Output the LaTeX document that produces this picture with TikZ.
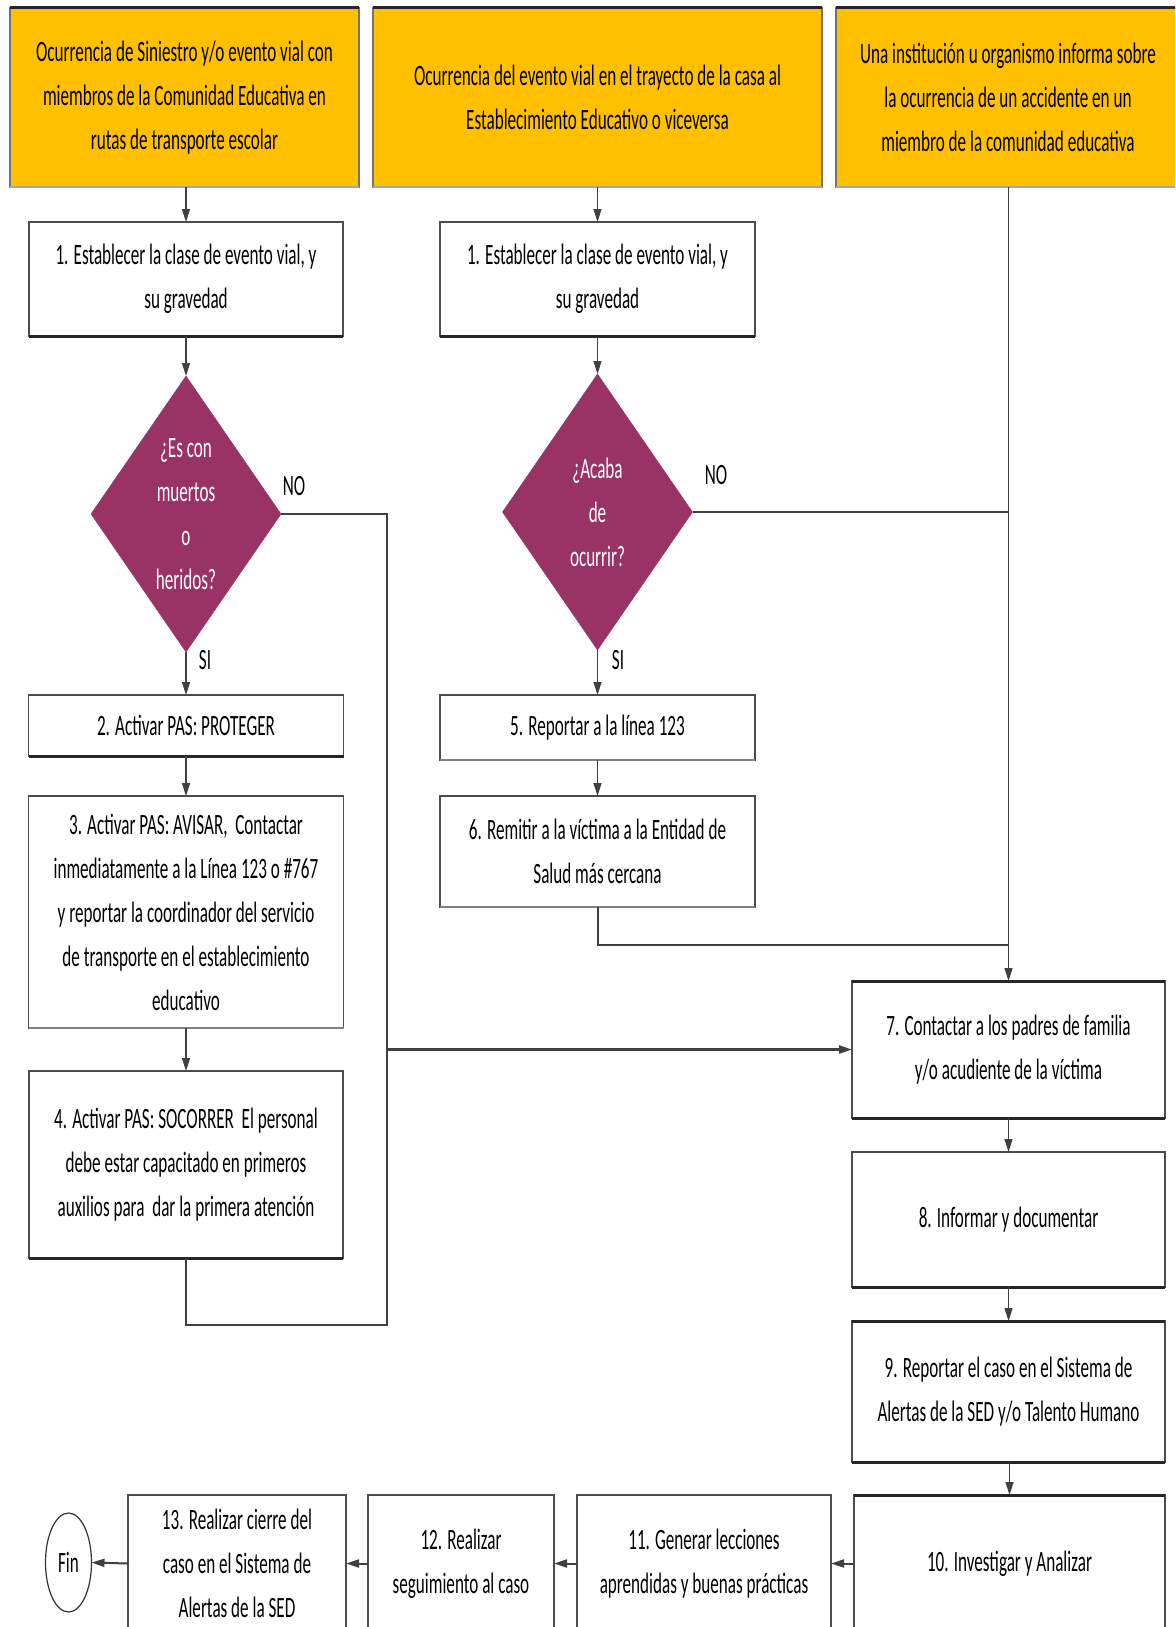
\documentclass[tikz,border=0pt]{standalone}
\usepackage{fontspec}
\setmainfont{Carlito}[FakeStretch=0.58]
\usetikzlibrary{shapes.geometric,arrows.meta}
\definecolor{topfill}{HTML}{FFC000}
\definecolor{decfill}{HTML}{993366}
\newcommand\txtf{\fontsize{29.5}{44}\selectfont}
\begin{document}
\begin{tikzpicture}[x=1pt,y=-1pt,
  box/.style={draw=black!70, line width=1.2pt, fill=white, inner sep=0pt, outer sep=0pt, align=center, font=\txtf, text=black},
  topbox/.style={box, fill=topfill, draw=black!55},
  decision/.style={diamond, shape aspect=0.69, fill=decfill, draw=decfill, inner sep=0pt, outer sep=0pt, align=center, font=\txtf, text=white},
  endnode/.style={ellipse, draw=black!80, line width=1.2pt, fill=white, inner sep=0pt, outer sep=0pt, font=\txtf},
  lbl/.style={font=\txtf, inner sep=0pt},
  conn/.style={draw=black!75, line width=1.3pt},
  arr/.style={conn, -{Triangle[length=13pt,width=8pt]}},
  thickedge/.style={line width=3pt, draw=black!85}
]
\clip (0,0) rectangle (1175,1627);
\fill[white] (0,0) rectangle (1175,1627);

% top boxes
\node[topbox, minimum width=349pt, minimum height=179pt] (A) at (184.5,97.5)
  {Ocurrencia de Siniestro y/o evento vial con\\miembros de la Comunidad Educativa en\\rutas de transporte escolar};
\node[topbox, minimum width=449pt, minimum height=179pt] (B) at (597.5,97.5)
  {Ocurrencia del evento vial en el trayecto de la casa al\\Establecimiento Educativo o viceversa};
\node[topbox, minimum width=344pt, minimum height=179pt] (C) at (1008,97.5)
  {Una institución u organismo informa sobre\\la ocurrencia de un accidente en un\\miembro de la comunidad educativa};

% left column
\node[box, minimum width=314pt, minimum height=114pt] (b1L) at (186,279)
  {1. Establecer la clase de evento vial, y\\su gravedad};
\node[decision, minimum width=190pt, minimum height=276pt] (d1) at (186,514)
  {¿Es con\\muertos\\o\\heridos?};
\node[box, minimum width=315pt, minimum height=61pt] (b2) at (186,725.5)
  {2. Activar PAS: PROTEGER};
\node[box, minimum width=315pt, minimum height=232pt] (b3) at (186,912)
  {3. Activar PAS: AVISAR,\ \ Contactar\\inmediatamente a la Línea 123 o \#767\\y reportar la coordinador del servicio\\de transporte en el establecimiento\\educativo};
\node[box, minimum width=314pt, minimum height=187pt] (b4) at (186,1164.5)
  {4. Activar PAS: SOCORRER\ \ El personal\\debe estar capacitado en primeros\\auxilios para\ \ dar la primera atención};

% middle column
\node[box, minimum width=315pt, minimum height=114pt] (b1M) at (597.5,279)
  {1. Establecer la clase de evento vial, y\\su gravedad};
\node[decision, minimum width=190pt, minimum height=276pt] (d2) at (597.5,512)
  {¿Acaba\\de\\ocurrir?};
\node[box, minimum width=315pt, minimum height=65pt] (b5) at (597.5,727.5)
  {5. Reportar a la línea 123};
\node[box, minimum width=315pt, minimum height=111pt] (b6) at (597.5,851.5)
  {6. Remitir a la víctima a la Entidad de\\Salud más cercana};

% right column
\node[box, minimum width=313pt, minimum height=137pt] (b7) at (1008.5,1049.5)
  {7. Contactar a los padres de familia\\y/o acudiente de la víctima};
\node[box, minimum width=313pt, minimum height=135pt] (b8) at (1008.5,1219.5)
  {8. Informar y documentar};
\node[box, minimum width=313pt, minimum height=141pt] (b9) at (1008.5,1391.5)
  {9. Reportar el caso en el Sistema de\\Alertas de la SED y/o Talento Humano};

% bottom row
\node[box, minimum width=311pt, minimum height=137pt] (b10) at (1009.5,1563.5)
  {10. Investigar y Analizar};
\node[box, minimum width=254pt, minimum height=137pt] (b11) at (704,1563.5)
  {11. Generar lecciones\\aprendidas y buenas prácticas};
\node[box, minimum width=186pt, minimum height=137pt] (b12) at (461,1563.5)
  {12. Realizar\\seguimiento al caso};
\node[box, minimum width=218pt, minimum height=137pt] (b13) at (237,1563.5)
  {13. Realizar cierre del\\caso en el Sistema de\\Alertas de la SED};
\node[endnode, minimum width=46pt, minimum height=99pt] (fin) at (68.5,1562.5) {Fin};

% thick edges (shadow look)
\foreach \n in {A,B,C} \draw[thickedge] (\n.north west) -- (\n.north east);
\foreach \n in {A,B,C} \draw[line width=2pt, draw=black!35] (\n.south west) -- (\n.south east);
\foreach \n in {b1L,b1M,b2,b4,b7,b8,b9} \draw[thickedge] (\n.south west) -- (\n.south east);
\foreach \n in {b7,b9,b10} \draw[thickedge] (\n.north west) -- (\n.north east);
\foreach \n in {b3,b5,b6} \draw[line width=2.2pt, draw=black!50] (\n.south west) -- (\n.south east);

% labels
\node[lbl] (no1) at (294,486) {NO};
\node[lbl] (si1) at (205,660) {SI};
\node[lbl] (no2) at (716,475) {NO};
\node[lbl] (si2) at (618,660) {SI};

% coordinates for routing
\coordinate (j1) at (387,514);
\coordinate (j2) at (387,1325);
\coordinate (j3) at (186,1325);
\coordinate (j4) at (387,1049.5);
\coordinate (j5) at (597.5,945);

% left column connectors
\draw[arr] (A.south -| b1L.north) -- (b1L.north);
\draw[arr] (b1L.south) -- (d1.north);
\draw[arr] (d1.south) -- (b2.north);
\draw[arr] (b2.south) -- (b3.north);
\draw[arr] (b3.south) -- (b4.north);
\draw[conn] (d1.east) -- (j1) -- (j2) -- (j3) -- (b4.south);
\draw[arr, line width=2.4pt] (j4) -- (b7.west);

% middle column connectors
\draw[arr] (B.south -| b1M.north) -- (b1M.north);
\draw[arr] (b1M.south) -- (d2.north);
\draw[arr] (d2.south) -- (b5.north);
\draw[arr] (b5.south) -- (b6.north);
\draw[conn, line width=2pt] (d2.east) -- (d2.east -| b7.north);
\draw[conn, line width=2pt] (b6.south) -- (j5) -- (j5 -| b7.north);

% right column connectors
\draw[arr] (C.south -| b7.north) -- (b7.north);
\draw[arr] (b7.south) -- (b8.north);
\draw[arr] (b8.south) -- (b9.north);
\draw[arr] (b9.south -| b10.north) -- (b10.north);

% bottom row connectors
\draw[arr, line width=2pt] (b10.west) -- (b11.east);
\draw[arr, line width=2pt] (b11.west) -- (b12.east);
\draw[arr, line width=2pt] (b12.west) -- (b13.east);
\draw[arr, line width=2pt] (b13.west) -- (fin.east);
\end{tikzpicture}
\end{document}
